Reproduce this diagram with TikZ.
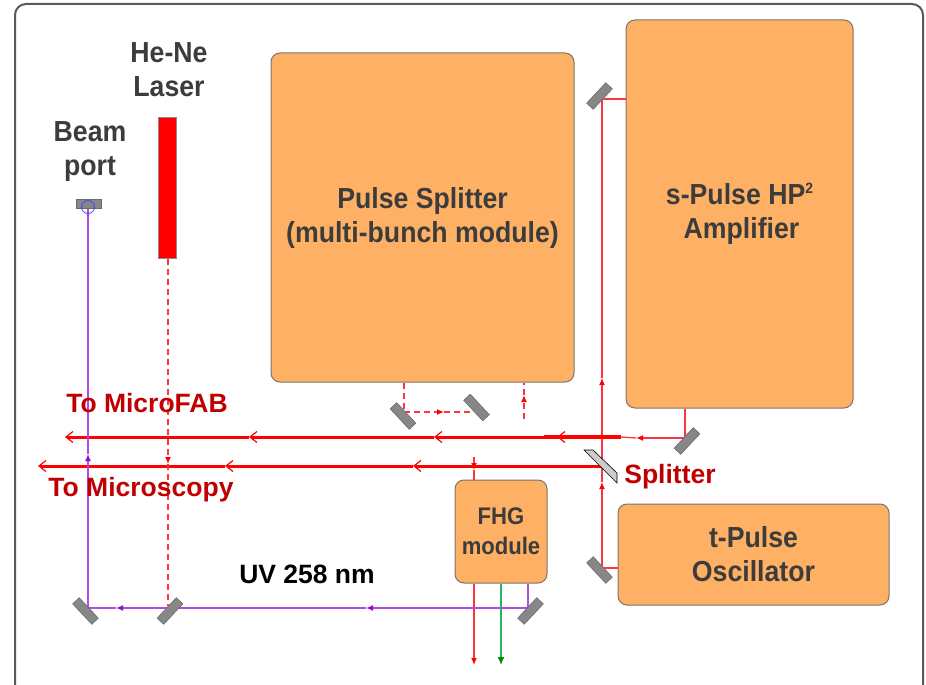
\documentclass[tikz,border=0pt]{standalone}
\usepackage{fontspec}
\setmainfont{Liberation Sans}
\newfontfamily\narrowsans[FakeStretch=0.92]{Liberation Sans}
\usetikzlibrary{arrows.meta}
\definecolor{boxfill}{RGB}{254,176,101}
\definecolor{boxline}{RGB}{125,115,105}
\definecolor{labelgray}{RGB}{60,60,60}
\definecolor{labelred}{RGB}{192,0,0}
\definecolor{beamred}{RGB}{255,0,0}
\definecolor{thinred}{RGB}{255,50,70}
\definecolor{uvpurple}{RGB}{175,75,225}
\definecolor{tippurple}{RGB}{150,10,220}
\definecolor{greenbeam}{RGB}{40,180,90}
\definecolor{mirrorgray}{RGB}{135,135,135}
\newcommand{\bigfont}{\narrowsans\fontsize{29}{34}\selectfont\bfseries}
\newcommand{\redfont}{\fontsize{26.5}{34}\selectfont\bfseries}
\begin{document}
\begin{tikzpicture}[x=1pt,y=-1pt,
    modulebox/.style={draw=boxline, line width=1pt, fill=boxfill, rounded corners=9pt, inner sep=0pt,
      align=center, text=labelgray, font=\bigfont},
    mirror/.style={draw=mirrorgray!80!black, line width=0.6pt, fill=mirrorgray, minimum width=28pt,
      minimum height=9pt, inner sep=0pt},
    caption/.style={align=center, text=labelgray, font=\bigfont, inner sep=0pt},
    redcaption/.style={text=labelred, font=\redfont, inner sep=0pt},
    thinbeam/.style={draw=thinred, line width=1.3pt},
    dashbeam/.style={draw=thinred, line width=1.3pt, dash pattern=on 6pt off 4pt},
    mainbeam/.style={draw=beamred, line width=3pt, -{Straight Barb[length=7pt,width=11pt,line width=1.2pt]}},
    uvbeam/.style={draw=uvpurple, line width=1.4pt},
    redtip/.style={-{Latex[length=7pt,width=6pt,color=beamred]}},
    uvtip/.style={-{Latex[length=7pt,width=6pt,color=tippurple]}}]
\useasboundingbox (0,0) rectangle (926,685);

% ---- frame
\path[clip] (0,0) rectangle (926,685);
\draw[draw=black!65, line width=2pt, rounded corners=11pt] (15,4) rectangle (923,696);

% ---- coordinates of the beams
\coordinate (ampturn) at (602,99);
\coordinate (oscturn) at (602,568);
\coordinate (ampout) at (685,438);
\coordinate (uvturn) at (528,608);
\coordinate (uvcorner) at (88,608);
\coordinate (portend) at (88,208);
\coordinate (heneend) at (168,606);
\coordinate (mftap) at (621,437);
\coordinate (mfA) at (557,437);
\coordinate (mfB) at (434,437);
\coordinate (mfC) at (249,437);
\coordinate (mfD) at (65,437);
\coordinate (mcStart) at (602,466);
\coordinate (mcA) at (413,466);
\coordinate (mcB) at (225,466);
\coordinate (mcC) at (38,466);
\coordinate (fhgtap) at (474,457);
\coordinate (splitA) at (404,412);
\coordinate (splitB) at (474,412);
\coordinate (splitC) at (524,419);
\coordinate (redend) at (474,665);
\coordinate (greenend) at (501,665);

% ---- modules
\node[modulebox, minimum width=303pt, minimum height=329pt] (splitter) at (422.5,217.5)
  {Pulse Splitter\\(multi-bunch module)};
\node[modulebox, minimum width=227pt, minimum height=388pt] (amp) at (739.5,214)
  {s-Pulse HP\smash{\raisebox{11pt}{\fontsize{15}{15}\selectfont 2}}\\\hspace*{4pt}Amplifier};
\node[modulebox, minimum width=271pt, minimum height=101pt] (osc) at (753.5,554.5)
  {t-Pulse\\Oscillator};
\node[modulebox, minimum width=92pt, minimum height=103pt, font=\narrowsans\fontsize{24}{30}\selectfont\bfseries] (fhg) at (501,531.5)
  {FHG\\module};
\node[draw=black!45, line width=1pt, fill=red, minimum width=18pt, minimum height=141pt, inner sep=0pt] (laser) at (167,187.5) {};

% ---- oscillator to amplifier
\draw[thinbeam] (osc.west |- oscturn) -- (oscturn);
\draw[thinbeam, redtip] (oscturn) -- (602,482);
\draw[thinbeam, redtip] (602,482) -- (602,378);
\draw[thinbeam] (602,378) -- (ampturn) -- (amp.west |- ampturn);

% ---- amplifier output
\draw[thinbeam] (amp.south -| ampout) -- (ampout);
\draw[thinbeam, redtip] (ampout) -- (636,438);
\draw[thinbeam] (636,438) -- (mftap);
\draw[draw=beamred, line width=3.6pt] (mftap) -- (544,437);
\foreach \a/\b in {mftap/mfA,mfA/mfB,mfB/mfC,mfC/mfD}{\draw[mainbeam] (\a) -- (\b);}
\foreach \a/\b in {mcStart/mcA,mcA/mcB,mcB/mcC}{\draw[mainbeam] (\a) -- (\b);}

% ---- pulse splitter loop
\draw[dashbeam] (splitter.south -| splitA) -- (splitA);
\draw[dashbeam, redtip] (splitA) -- (444,412);
\draw[dashbeam] (444,412) -- (splitB);
\draw[dashbeam, redtip] (splitC) -- (524,395);
\draw[dashbeam] (524,395) -- (splitter.south -| splitC);

% ---- FHG
\draw[thinbeam, redtip] (fhgtap) -- (474,470);
\draw[thinbeam] (474,470) -- (fhg.north -| fhgtap);
\draw[thinbeam, redtip] (fhg.south -| redend) -- (redend);
\draw[draw=greenbeam, line width=1.4pt, -{Latex[length=8pt,width=7pt,color=green!55!black]}] (fhg.south -| greenend) -- (greenend);

% ---- UV line
\draw[uvbeam] (fhg.south -| uvturn) -- (uvturn);
\draw[uvbeam, uvtip] (uvturn) -- (366,608);
\draw[uvbeam, uvtip] (366,608) -- (116,608);
\draw[uvbeam] (116,608) -- (uvcorner);
\draw[uvbeam, uvtip] (uvcorner) -- (88,454);
\draw[uvbeam] (88,454) -- (portend);

% ---- He-Ne line
\draw[dashbeam, redtip] (laser.south -| heneend) -- (168,464);
\draw[dashbeam] (168,464) -- (heneend);

% ---- mirrors
\node[mirror, rotate=47] (mtop) at (599.5,96) {};
\node[mirror, rotate=-47] (mbottom) at (599.5,570) {};
\node[mirror, rotate=47] (mamp) at (687,441) {};
\node[mirror, rotate=-47] (mloopA) at (403,416) {};
\node[mirror, rotate=-47] (mloopB) at (476.5,407.5) {};
\node[mirror, rotate=47] (mfhg) at (530.5,611) {};
\node[mirror, rotate=47] (mhene) at (170,611) {};
\node[mirror, rotate=-47] (mcorner) at (85.5,611) {};
\node[mirror, rotate=0, minimum width=25pt] (mport) at (88.5,203.5) {};
\node[circle, draw=blue!75!white, line width=0.8pt, minimum size=13pt, inner sep=0pt] (portring) at (88,207) {};
\draw[draw=black, line width=0.6pt, fill=black!20] (584,450) -- (593,450) -- (617,473) -- (617,483) -- cycle;

% ---- labels
\node[caption] (henelabel) at (169,70) {He-Ne\\Laser};
\node[caption] (portlabel) at (90,152) {Beam\\port};
\node[redcaption] (mflabel) at (147,403) {To MicroFAB};
\node[redcaption] (mclabel) at (141,490) {To Microscopy};
\node[redcaption] (splitlabel) at (670,477) {Splitter};
\node[font=\redfont, inner sep=0pt] (uvlabel) at (307,574) {UV 258 nm};
\end{tikzpicture}
\end{document}
